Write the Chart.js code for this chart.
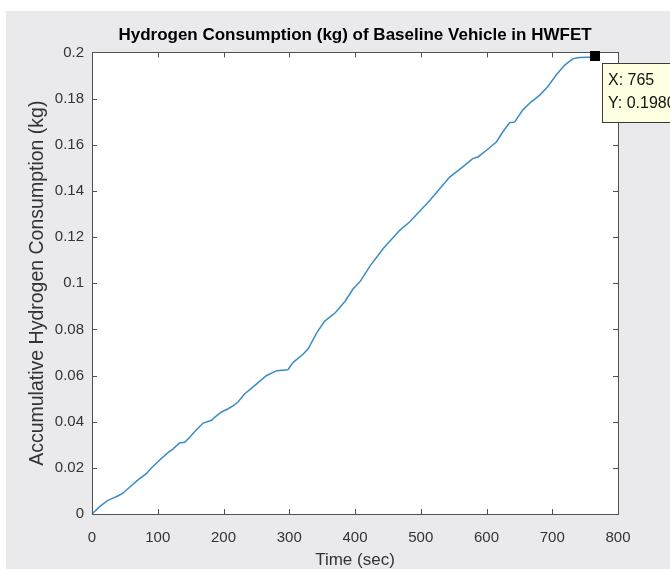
<!DOCTYPE html>
<html>
<head>
<meta charset="utf-8">
<script src="https://cdn.jsdelivr.net/npm/chart.js@4/dist/chart.umd.min.js"></script>
<style>
html,body{margin:0;padding:0;background:#ffffff;}
canvas{display:block;}
</style>
</head>
<body>
<canvas id="c" width="670" height="569"></canvas>
<script>
const timeSec = [0, 12, 24, 32, 40, 47, 57, 70, 83, 90, 103, 116, 123, 133, 141, 149, 156, 169, 182, 187, 197, 207, 215, 222, 232, 250, 265, 281, 298, 306, 321, 329, 342, 354, 370, 385, 397, 408, 423, 443, 468, 483, 514, 544, 564, 579, 587, 600, 615, 625, 635, 643, 655, 668, 681, 693, 706, 719, 731, 741, 765];
const h2Kg = [0, 0.0033, 0.0059, 0.0069, 0.0079, 0.0090, 0.0116, 0.0148, 0.0176, 0.0198, 0.0234, 0.0267, 0.0281, 0.0308, 0.0311, 0.0334, 0.0356, 0.0394, 0.0406, 0.0420, 0.0442, 0.0456, 0.0470, 0.0485, 0.0520, 0.0563, 0.0599, 0.0621, 0.0625, 0.0657, 0.0692, 0.0717, 0.0786, 0.0836, 0.0872, 0.0922, 0.0975, 0.1008, 0.1075, 0.1150, 0.1229, 0.1265, 0.1359, 0.1460, 0.1504, 0.1540, 0.1547, 0.1576, 0.1612, 0.1656, 0.1695, 0.1699, 0.1750, 0.1786, 0.1815, 0.1851, 0.1902, 0.1945, 0.1972, 0.1978, 0.1980];
const xTicks = [0, 100, 200, 300, 400, 500, 600, 700, 800];
const yTicks = [0, 0.02, 0.04, 0.06, 0.08, 0.1, 0.12, 0.14, 0.16, 0.18, 0.2];
const tipX = 765;
const tipY = 0.1980;
const tipLines = ['X: 765', 'Y: 0.1980'];

const FONT = "'Liberation Sans', Arial, sans-serif";

const bgPlugin = {
  id: 'bg',
  afterLayout(chart) {
    // centre the title over the axes box, as MATLAB does
    const t = chart.titleBlock, a = chart.chartArea;
    if (t) { t.left = a.left; t.right = a.right; t.width = a.right - a.left; }
  },
  beforeDraw(chart) {
    const ctx = chart.ctx;
    const a = chart.chartArea;
    ctx.save();
    ctx.fillStyle = '#ffffff';
    ctx.fillRect(0, 0, chart.width, chart.height);
    ctx.fillStyle = '#eaeaec';
    ctx.fillRect(6, 11, chart.width - 6, chart.height - 11);
    ctx.fillStyle = '#ffffff';
    ctx.fillRect(a.left, a.top, a.right - a.left, a.bottom - a.top);
    ctx.restore();
  }
};

const boxPlugin = {
  id: 'box',
  afterDatasetsDraw(chart) {
    const ctx = chart.ctx;
    const a = chart.chartArea;
    const xs = chart.scales.x, ys = chart.scales.y;
    ctx.save();
    ctx.strokeStyle = '#505050';
    ctx.lineWidth = 1;
    ctx.beginPath();
    const L = 5;
    xTicks.forEach(v => {
      const px = Math.round(xs.getPixelForValue(v)) + 0.5;
      ctx.moveTo(px, a.bottom); ctx.lineTo(px, a.bottom - L);
      ctx.moveTo(px, a.top); ctx.lineTo(px, a.top + L);
    });
    yTicks.forEach(v => {
      const py = Math.round(ys.getPixelForValue(v)) + 0.5;
      ctx.moveTo(a.left, py); ctx.lineTo(a.left + L, py);
      ctx.moveTo(a.right, py); ctx.lineTo(a.right - L, py);
    });
    ctx.stroke();
    ctx.strokeRect(Math.round(a.left) + 0.5, Math.round(a.top) + 0.5, Math.round(a.right - a.left), Math.round(a.bottom - a.top));
    ctx.restore();
  },
  afterDraw(chart) {
    const ctx = chart.ctx;
    const xs = chart.scales.x, ys = chart.scales.y;
    const px = xs.getPixelForValue(tipX);
    const py = ys.getPixelForValue(tipY);
    ctx.save();
    ctx.fillStyle = '#000000';
    ctx.fillRect(px - 5, py - 6, 10, 10);
    const bx = px + 7, by = py + 6, bw = 90, bh = 59;
    ctx.fillStyle = '#ffffe1';
    ctx.fillRect(bx, by, bw, bh);
    ctx.strokeStyle = '#3a3a3a';
    ctx.lineWidth = 1;
    ctx.strokeRect(Math.round(bx) + 0.5, Math.round(by) + 0.5, bw, bh);
    ctx.fillStyle = '#111111';
    ctx.font = '16px ' + FONT;
    ctx.textBaseline = 'middle';
    ctx.fillText(tipLines[0], bx + 6, by + 18);
    ctx.fillText(tipLines[1], bx + 6, by + 41);
    ctx.restore();
  }
};

new Chart(document.getElementById('c'), {
  type: 'line',
  data: {
    datasets: [{
      data: timeSec.map((t, i) => ({x: t, y: h2Kg[i]})),
      borderColor: '#3a8cc8',
      borderWidth: 1.5,
      pointRadius: 0,
      fill: false,
      tension: 0
    }]
  },
  options: {
    responsive: false,
    animation: false,
    events: [],
    layout: {padding: {left: 0, right: 52, top: 11, bottom: 0}},
    plugins: {
      legend: {display: false},
      tooltip: {enabled: false},
      title: {
        display: true,
        text: 'Hydrogen Consumption (kg) of Baseline Vehicle in HWFET',
        color: '#000000',
        font: {family: FONT, size: 17, weight: 'bold', lineHeight: 1.2},
        padding: {top: 14, bottom: 7}
      }
    },
    scales: {
      x: {
        type: 'linear',
        min: 0, max: 800,
        afterBuildTicks(s) { s.ticks = xTicks.map(v => ({value: v})); },
        afterFit(s) { s.height = 55; },
        grid: {display: false, drawTicks: false},
        border: {display: false},
        ticks: {color: '#333333', font: {family: FONT, size: 15}, padding: 15, maxRotation: 0,
          callback: v => String(v)},
        title: {display: true, text: 'Time (sec)', color: '#333333',
          font: {family: FONT, size: 17, lineHeight: 1.0}, padding: {top: 0, bottom: 0}}
      },
      y: {
        type: 'linear',
        min: 0, max: 0.2,
        afterBuildTicks(s) { s.ticks = yTicks.map(v => ({value: v})); },
        afterFit(s) { s.width = 92; },
        grid: {display: false, drawTicks: false},
        border: {display: false},
        ticks: {color: '#333333', font: {family: FONT, size: 15}, padding: 8,
          callback: v => String(Math.round(v * 100) / 100)},
        title: {display: true, text: 'Accumulative Hydrogen Consumption (kg)', color: '#333333',
          font: {family: FONT, size: 19.5, lineHeight: 1.2}, padding: {top: 26, bottom: 0}}
      }
    }
  },
  plugins: [bgPlugin, boxPlugin]
});
</script>
</body>
</html>
